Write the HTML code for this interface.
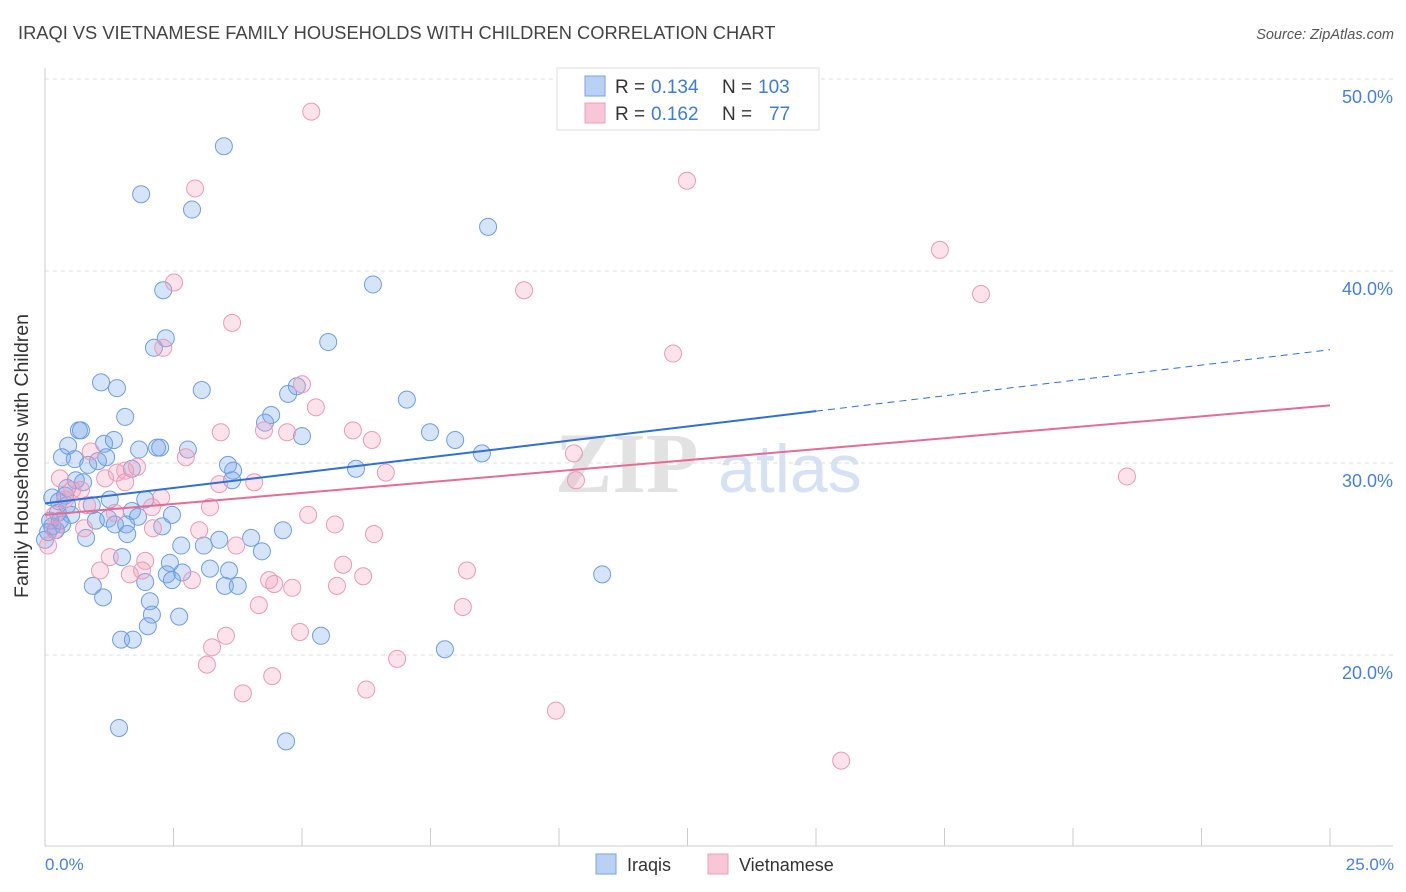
<!DOCTYPE html>
<html><head><meta charset="utf-8"><style>
body{margin:0;background:#fff;font-family:"Liberation Sans",sans-serif;}
svg{display:block}
</style></head><body>
<svg width="1406" height="892" xmlns="http://www.w3.org/2000/svg">
<text x="18" y="39" font-size="18.3" fill="#444">IRAQI VS VIETNAMESE FAMILY HOUSEHOLDS WITH CHILDREN CORRELATION CHART</text>
<text x="1394" y="39" font-size="14.5" fill="#555" text-anchor="end" font-style="italic">Source: ZipAtlas.com</text>
<g>
<text x="555" y="492" font-size="86" fill="#e2e2e2" font-family="Liberation Serif,serif" font-weight="bold">ZIP</text>
<text x="718" y="492" font-size="68" fill="#d6e2f4">atlas</text>
</g>
<g id="grid"></g>
<line x1="45" y1="68" x2="45" y2="846" stroke="#ccc"/>
<line x1="45" y1="846" x2="1393" y2="846" stroke="#ccc"/>
<g id="xticks"></g>
<text x="28" y="456" font-size="19.5" fill="#333" text-anchor="middle" transform="rotate(-90 28 456)">Family Households with Children</text>
<text x="45" y="870" font-size="17" fill="#4a7fd6">0.0%</text>
<text x="1394" y="870" font-size="17" fill="#4a7fd6" text-anchor="end">25.0%</text>
<g id="pts"></g>
<g id="lines"></g>
<g>
<rect x="557" y="68" width="262" height="62" fill="#fff" stroke="#ddd"/>
<rect x="585" y="76" width="20" height="20" fill="#b9d1f3" stroke="#7aa3e3"/>
<rect x="585" y="103" width="20" height="20" fill="#f8c6d6" stroke="#eaa0ba"/>
<text x="615" y="93" font-size="19" fill="#333">R =</text>
<text x="651" y="93" font-size="19" fill="#3f7bd9">0.134</text>
<text x="722" y="93" font-size="19" fill="#333">N =</text>
<text x="758" y="93" font-size="19" fill="#3f7bd9">103</text>
<text x="615" y="120" font-size="19" fill="#333">R =</text>
<text x="651" y="120" font-size="19" fill="#3f7bd9">0.162</text>
<text x="722" y="120" font-size="19" fill="#333">N =</text>
<text x="769" y="120" font-size="19" fill="#3f7bd9">77</text>
</g>
<g>
<rect x="596" y="854" width="20" height="20" fill="#b9d1f3" stroke="#7aa3e3"/>
<text x="627" y="871" font-size="18" fill="#333">Iraqis</text>
<rect x="708" y="854" width="20" height="20" fill="#f8c6d6" stroke="#eaa0ba"/>
<text x="739" y="871" font-size="18" fill="#333">Vietnamese</text>
</g>
</svg>
<script>
const yTicks=[20,30,40,50];
const xTickVals=[0,2.5,5,7.5,10,12.5,15,17.5,20,22.5,25];
const iraqiX=[3.48,1.87,2.86,8.62,2.30,6.38,2.35,2.12,5.51,1.09,1.40,3.05,4.90,7.04,1.56,4.40,4.28,4.73,0.66,0.70,1.15,1.34,0.45,1.83,2.18,2.24,2.78,5.00,7.49,7.98,8.50,0.33,0.58,1.19,1.03,0.84,1.69,3.56,3.66,6.05,3.64,0.60,0.74,0.43,0.14,0.27,0.43,0.91,1.26,1.95,0.25,0.51,0.99,1.23,1.69,1.81,2.47,0.10,0.14,0.33,1.36,1.58,2.28,0.06,0.80,1.60,2.65,3.09,3.39,4.01,4.63,4.22,1.50,2.43,3.21,3.58,2.37,2.67,2.47,1.95,0.93,3.50,3.75,1.13,2.04,2.08,2.61,2.00,1.48,1.71,5.37,7.78,10.84,1.44,4.69,0.21,0.29,0.39,0.0];
const iraqiY=[46.5,44.0,43.2,42.3,39.0,39.3,36.5,36.0,36.3,34.2,33.9,33.8,34.0,33.3,32.4,32.5,32.1,33.6,31.7,31.7,31.0,31.2,30.9,30.7,30.8,30.8,30.7,31.4,31.6,31.2,30.5,30.3,30.2,30.3,30.1,29.9,29.7,29.9,29.6,29.7,29.1,29.1,29.0,28.7,28.2,28.0,27.8,27.8,28.1,28.1,27.4,27.3,27.0,27.1,27.5,27.2,27.3,27.0,26.7,26.8,26.8,26.8,26.7,26.4,26.1,26.3,25.7,25.7,26.0,26.1,26.5,25.4,25.1,24.8,24.5,24.4,24.2,24.3,23.9,23.8,23.6,23.6,23.6,23.0,22.8,22.1,22.0,21.5,20.8,20.8,21.0,20.3,24.2,16.2,15.5,26.5,27.0,28.3,26.0];
const vietX=[5.18,2.92,12.49,17.41,2.51,9.32,18.21,3.64,2.30,12.22,5.00,5.27,3.42,4.26,4.71,5.99,6.36,0.89,2.74,1.79,10.29,1.56,1.40,6.63,1.17,0.29,1.56,3.39,4.07,10.33,21.05,0.53,0.70,2.26,2.08,1.36,3.21,5.12,3.00,3.72,2.10,5.64,6.40,0.76,0.19,0.06,1.26,1.95,1.89,1.07,1.65,5.80,4.36,6.19,4.46,4.81,5.68,8.21,2.86,4.16,8.13,3.52,4.96,3.25,3.15,6.85,4.42,6.25,3.85,9.94,15.49,0.39,0.19,0.82];
const vietY=[48.3,44.3,44.7,41.1,39.4,39.0,38.8,37.3,36.0,35.7,34.1,32.9,31.6,31.7,31.6,31.7,31.2,30.6,30.3,29.8,30.5,29.6,29.5,29.5,29.2,29.2,29.0,28.9,29.0,29.1,29.3,28.6,28.6,28.2,27.7,27.4,27.7,27.3,26.5,25.7,26.6,26.8,26.3,26.6,26.5,25.7,25.1,24.9,24.4,24.4,24.2,24.7,23.9,24.1,23.7,23.5,23.6,24.4,23.9,22.6,22.5,21.0,21.2,20.4,19.5,19.8,18.9,18.2,18.0,17.1,14.5,28.1,27.3,27.8];
const iraqiTrend=[27.9,32.7,35.9]; // at x=0,15,25
const vietTrend=[27.3,33.0];       // at x=0,25
const NS="http://www.w3.org/2000/svg";
const sx=v=>45+v*51.4, sy=v=>847-(v-10)*19.2;
function mk(t,a,p){const e=document.createElementNS(NS,t);for(const k in a)e.setAttribute(k,a[k]);p.appendChild(e);return e;}
const grid=document.getElementById('grid');
yTicks.forEach(t=>{
 const l=mk('line',{x1:45,x2:1393,y1:sy(t),y2:sy(t),stroke:'#ddd','stroke-dasharray':'4,4'},grid);
 
 
 const tx=mk('text',{x:1393,y:sy(t)+24,'font-size':18,fill:'#4a7fd6','text-anchor':'end'},grid);
 tx.textContent=t.toFixed(1)+'%';
 
 
});
const xt=document.getElementById('xticks');
xTickVals.forEach(v=>{
 const l=mk('line',{x1:sx(v),x2:sx(v),y1:828,y2:846,stroke:'#ccc'},xt);
 
 
});
const pts=document.getElementById('pts');
iraqiX.forEach((x,i)=>{
 const c=mk('circle',{cx:sx(x),cy:sy(iraqiY[i]),r:8.5,fill:'rgba(120,165,235,0.3)',stroke:'#6f9de3','stroke-width':1},pts);
 
 
});
vietX.forEach((x,i)=>{
 const c=mk('circle',{cx:sx(x),cy:sy(vietY[i]),r:8.5,fill:'rgba(245,160,190,0.3)',stroke:'#eb9ab7','stroke-width':1},pts);
 
 
});
const ln=document.getElementById('lines');
const b1=mk('line',{x1:sx(0),y1:sy(iraqiTrend[0]),x2:sx(15),y2:sy(iraqiTrend[1]),stroke:'#2f6fd6','stroke-width':2},ln);


const b2=mk('line',{x1:sx(15),y1:sy(iraqiTrend[1]),x2:sx(25),y2:sy(iraqiTrend[2]),stroke:'#2f6fd6','stroke-width':1,'stroke-dasharray':'7,5'},ln);


const p1=mk('line',{x1:sx(0),y1:sy(vietTrend[0]),x2:sx(25),y2:sy(vietTrend[1]),stroke:'#e66b95','stroke-width':2},ln);


</script>
</body></html>
